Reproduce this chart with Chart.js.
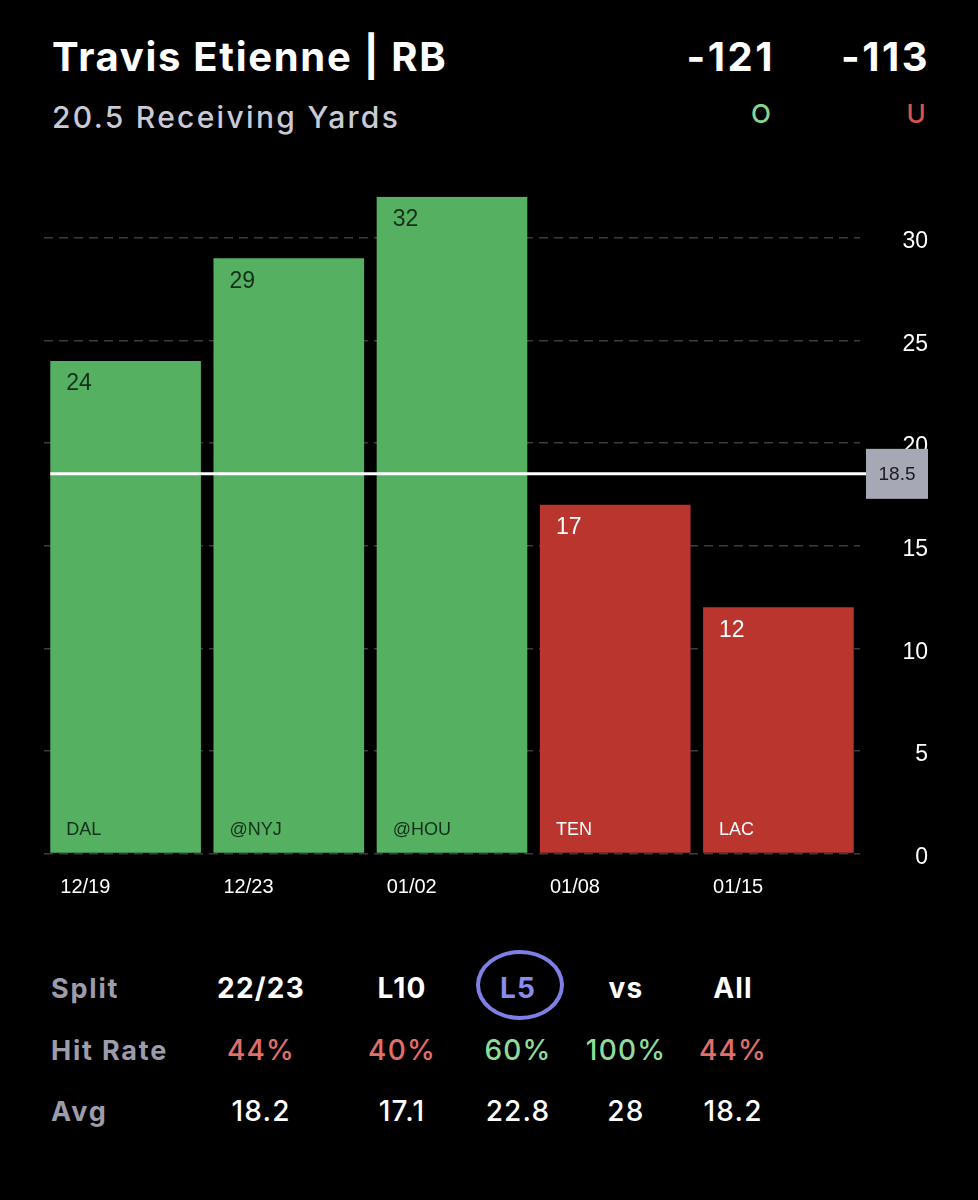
<!DOCTYPE html>
<html lang="en">
<head>
  <meta charset="UTF-8" />
  <title>Travis Etienne | RB</title>
  <script src="https://cdn.jsdelivr.net/npm/chart.js"></script>
  <style>
    body { margin: 0; background: #000; width: 978px; height: 1200px; position: relative; overflow: hidden; font-family: Inter, "Noto Sans", sans-serif; }
    .abs { position: absolute; white-space: nowrap; }
    #title { left: 52px; top: 32px; font-size: 40px; font-weight: 700; color: #fff; letter-spacing: 1.7px; }
    #subtitle { left: 52px; top: 99px; font-size: 30px; font-weight: 500; color: #c9cad6; letter-spacing: 2.3px; }
    .odds { top: 32px; font-size: 40px; font-weight: 700; color: #fff; letter-spacing: 2.5px; transform: translateX(-100%); }
    .ou { top: 98px; font-size: 26px; font-weight: 500; transform: translateX(-50%); }
    #chart-box { position: absolute; left: 0; top: 180px; width: 928px; height: 730px; }
    .rowlabel { left: 51px; font-size: 27px; font-weight: 700; color: #9c9cab; letter-spacing: 1.8px; transform: translateY(-50%); }
    .cell { font-size: 28px; letter-spacing: 1.2px; transform: translate(-50%, -50%); }
    #pick { position: absolute; left: 476px; top: 950px; width: 80px; height: 62px; border: 4px solid #7f80e6; border-radius: 50%; }
  </style>
</head>
<body>
  <div id="title" class="abs">Travis Etienne | RB</div>
  <div id="subtitle" class="abs">20.5 Receiving Yards</div>
  <div class="abs odds" style="left:775px">-121</div>
  <div class="abs odds" style="left:930px">-113</div>
  <div class="abs ou" style="left:761px;color:#86d68e">O</div>
  <div class="abs ou" style="left:916px;color:#d9544d">U</div>

  <div id="chart-box"><canvas id="bars"></canvas></div>

  <div id="pick"></div>
  <div id="table"></div>

  <script>
    // game log
    const opponents = ['DAL', '@NYJ', '@HOU', 'TEN', 'LAC'];
    const dates     = ['12/19', '12/23', '01/02', '01/08', '01/15'];
    const yards     = [24, 29, 32, 17, 12];
    const lineValue = 18.5;
    const yTicks    = [0, 5, 10, 15, 20, 25, 30];

    // split table
    const splits   = ['22/23', 'L10', 'L5', 'vs', 'All'];
    const hitRates = [44, 40, 60, 100, 44];
    const avgs     = ['18.2', '17.1', '22.8', '28', '18.2'];
    const picked   = 'L5';

    const GREEN = '#55b062', RED = '#b9352e';

    // table
    const colX = [261, 402, 518, 626, 733];
    const rowY = [988, 1050, 1111];
    const tbl = document.getElementById('table');
    ['Split', 'Hit Rate', 'Avg'].forEach((t, r) => {
      const d = document.createElement('div');
      d.className = 'abs rowlabel';
      d.style.top = rowY[r] + 'px';
      d.textContent = t;
      tbl.appendChild(d);
    });
    function cell(text, x, y, color, weight) {
      const d = document.createElement('div');
      d.className = 'abs cell';
      d.style.left = x + 'px'; d.style.top = y + 'px';
      d.style.color = color; d.style.fontWeight = weight;
      d.textContent = text;
      tbl.appendChild(d);
    }
    splits.forEach((s, i) => {
      cell(s, colX[i], rowY[0], s === picked ? '#8a8bee' : '#fff', 700);
      cell(hitRates[i] + '%', colX[i], rowY[1], hitRates[i] >= 50 ? '#8fdc9a' : '#e06f6b', 500);
      cell(avgs[i], colX[i], rowY[2], '#fff', 500);
    });

    // labels inside/below bars + the prop line
    const barText = {
      id: 'barText',
      afterDraw(chart) {
        const ctx = chart.ctx;
        const meta = chart.getDatasetMeta(0);
        const y = chart.scales.y;
        ctx.save();
        meta.data.forEach((bar, i) => {
          const left = bar.x - bar.width / 2;
          const dark = yards[i] > lineValue;
          ctx.textBaseline = 'middle';
          ctx.textAlign = 'left';
          ctx.fillStyle = dark ? '#15301a' : '#fff';
          ctx.font = '23px "Liberation Sans", Arial, sans-serif';
          ctx.fillText(String(yards[i]), left + 16, bar.y + 23);
          ctx.font = '18px "Liberation Sans", Arial, sans-serif';
          ctx.fillText(opponents[i], left + 16, bar.base - 23);
          ctx.fillStyle = '#fff';
          ctx.font = '20px "Liberation Sans", Arial, sans-serif';
          ctx.fillText(dates[i], left + 10, bar.base + 35);
        });
        const first = meta.data[0];
        const ly = y.getPixelForValue(lineValue);
        const boxL = y.left + 6, boxR = chart.width;
        ctx.strokeStyle = '#fff';
        ctx.lineWidth = 3;
        ctx.beginPath();
        ctx.moveTo(first.x - first.width / 2, ly);
        ctx.lineTo(boxL, ly);
        ctx.stroke();
        ctx.fillStyle = '#a7a8b6';
        ctx.fillRect(boxL, ly - 25, boxR - boxL, 50);
        ctx.fillStyle = '#1b1b1f';
        ctx.textAlign = 'center';
        ctx.font = '19px "Liberation Sans", Arial, sans-serif';
        ctx.fillText(lineValue.toFixed(1), (boxL + boxR) / 2, ly + 1);
        ctx.restore();
      }
    };

    new Chart(document.getElementById('bars'), {
      type: 'bar',
      data: {
        labels: opponents,
        datasets: [{
          data: yards,
          backgroundColor: yards.map(v => v > lineValue ? GREEN : RED),
          barPercentage: 0.923,
          categoryPercentage: 1
        }]
      },
      options: {
        responsive: true,
        maintainAspectRatio: false,
        animation: false,
        layout: { padding: { top: 16, left: 44, right: 0, bottom: 56.5 } },
        plugins: { legend: { display: false }, tooltip: { enabled: false } },
        scales: {
          x: { display: false },
          y: {
            position: 'right',
            min: 0,
            max: 32,
            afterBuildTicks: s => { s.ticks = yTicks.map(v => ({ value: v })); },
            afterFit: s => { s.width = 68; },
            ticks: {
              color: '#fff',
              font: { family: '"Liberation Sans", Arial, sans-serif', size: 23 },
              crossAlign: 'far',
              labelOffset: 4
            },
            grid: { color: '#3c3c3c', lineWidth: 1.5, drawTicks: false },
            border: { display: false, dash: [9, 6] }
          }
        }
      },
      plugins: [barText]
    });
  </script>
</body>
</html>
